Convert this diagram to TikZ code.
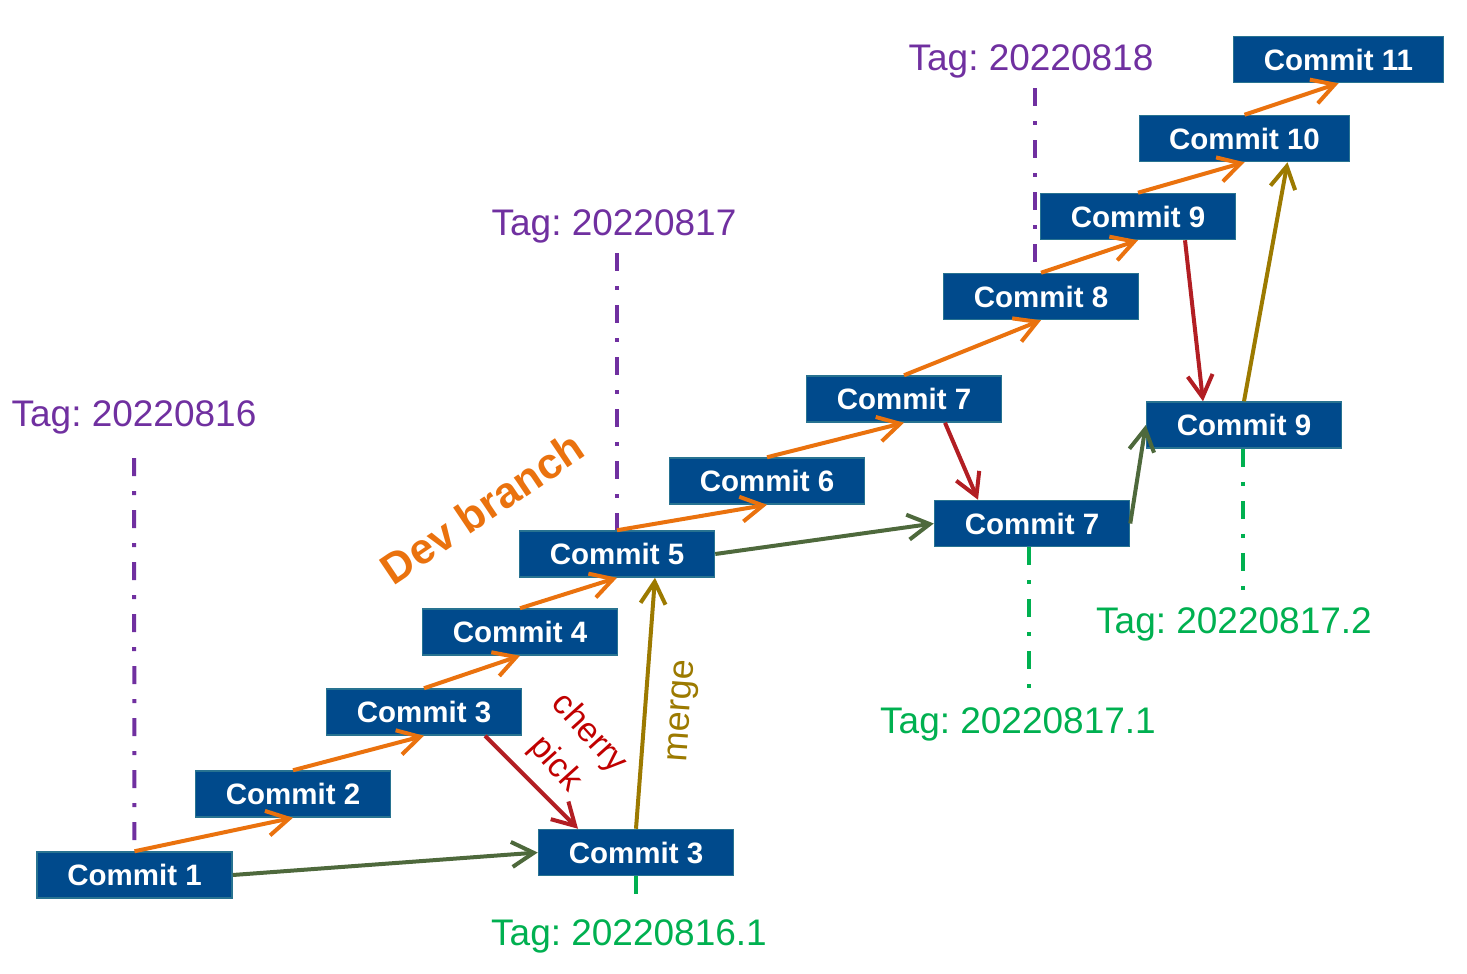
\documentclass[tikz,border=0pt]{standalone}
\usepackage{fontspec}
\setmainfont{Liberation Sans}
\usepackage{tikz}
\usetikzlibrary{arrows.meta, positioning}
\frenchspacing

\definecolor{commitblue}{RGB}{0,74,140}
\definecolor{commitedge}{RGB}{40,115,145}
\definecolor{devorange}{RGB}{234,114,14}
\definecolor{tagpurple}{RGB}{112,48,160}
\definecolor{taggreen}{RGB}{0,176,80}
\definecolor{fixgreen}{RGB}{78,105,60}
\definecolor{pickred}{RGB}{178,30,35}
\definecolor{picktext}{RGB}{192,0,0}
\definecolor{mergeolive}{RGB}{156,122,0}

\begin{document}
\begin{tikzpicture}[x=1pt, y=-1pt, ->, >={Straight Barb[length=22pt, width=25pt]}, line width=4pt]
    \tikzstyle{commit}=[draw=commitedge, line width=1.5pt, fill=commitblue, text=white, minimum width=195pt, minimum height=46pt, inner sep=0pt, font=\fontsize{29.5}{34}\selectfont\bfseries]
    \tikzstyle{tag}=[inner sep=0pt, font=\fontsize{37}{44}\selectfont]
    \tikzstyle{tagline}=[-, line width=4pt, dash pattern=on 18pt off 15pt on 4pt off 15pt]
    \useasboundingbox (0,0) rectangle (1467,974);

    % dev branch
    \node[commit] (C1) at (134.5,875) {Commit 1};
    \node[commit] (C2) at (293,794) {Commit 2};
    \node[commit] (C3) at (424,712) {Commit 3};
    \node[commit] (C4) at (520,632) {Commit 4};
    \node[commit] (C5) at (617,554) {Commit 5};
    \node[commit] (C6) at (767,481) {Commit 6};
    \node[commit] (C7) at (904,399) {Commit 7};
    \node[commit] (C8) at (1041,296.5) {Commit 8};
    \node[commit] (C9) at (1138,216.5) {Commit 9};
    \node[commit, minimum width=210pt] (C10) at (1244.5,138.5) {Commit 10};
    \node[commit, minimum width=210pt] (C11) at (1338.5,59.5) {Commit 11};

    % release commits
    \node[commit] (R3) at (636,852.5) {Commit 3};
    \node[commit] (R7) at (1032,523.5) {Commit 7};
    \node[commit] (R9) at (1244,425) {Commit 9};

    % tags
    \node[tag, text=tagpurple] (T1) at (134,417) {Tag: 20220816};
    \node[tag, text=tagpurple] (T2) at (614,226) {Tag: 20220817};
    \node[tag, text=tagpurple] (T3) at (1031,61) {Tag: 20220818};
    \node[tag, text=taggreen] (G1) at (629,936) {Tag: 20220816.1};
    \node[tag, text=taggreen] (G2) at (1018,724) {Tag: 20220817.1};
    \node[tag, text=taggreen] (G3) at (1234,624) {Tag: 20220817.2};

    \coordinate (t1) at (134,458);
    \coordinate (t2) at (617,253);
    \coordinate (t3) at (1035,88);
    \coordinate (g1) at (636,898);
    \coordinate (g2) at (1029,690);
    \coordinate (g3) at (1243,590);

    \draw[tagline, tagpurple] (t1) -- (C1.north);
    \draw[tagline, tagpurple] (t2) -- (t2 |- C5.north);
    \draw[tagline, tagpurple] (t3) -- (t3 |- C8.north);
    \draw[tagline, taggreen] (R3.south) -- (g1);
    \draw[tagline, taggreen] (g2 |- R7.south) -- (g2);
    \draw[tagline, taggreen] (g3 |- R9.south) -- (g3);

    % dev arrows
    \foreach \a/\b in {C1/C2, C2/C3, C3/C4, C4/C5, C5/C6, C6/C7, C7/C8, C8/C9, C9/C10, C10/C11}
        \draw[devorange] (\a.north) -- (\b.south);

    % release arrows
    \draw[fixgreen] (C1.east) -- (R3.west);
    \draw[fixgreen] (C5.east) -- (R7.west);
    \draw[fixgreen] (R7.east) -- (R9.west);

    % cherry picks
    \draw[pickred] ([xshift=61pt]C3.south) -- ([xshift=-58pt]R3.north);
    \draw[pickred] ([xshift=41pt]C7.south) -- ([xshift=-54pt]R7.north);
    \draw[pickred] ([xshift=47pt]C9.south) -- ([xshift=-41pt]R9.north);

    % merges
    \draw[mergeolive] (R3.north) -- ([xshift=38pt]C5.south);
    \draw[mergeolive] (R9.north) -- ([xshift=43pt]C10.south);

    \node[rotate=34, text=devorange, font=\fontsize{43}{50}\selectfont\bfseries] (dev) at (482,508) {Dev branch};
    \node[rotate=-48, text=picktext, align=center, font=\fontsize{34}{46}\selectfont] (pick) at (572,749) {cherry\\pick};
    \node[rotate=86, text=mergeolive, font=\fontsize{36}{42}\selectfont] (merge) at (684,711) {merge};
\end{tikzpicture}
\end{document}
